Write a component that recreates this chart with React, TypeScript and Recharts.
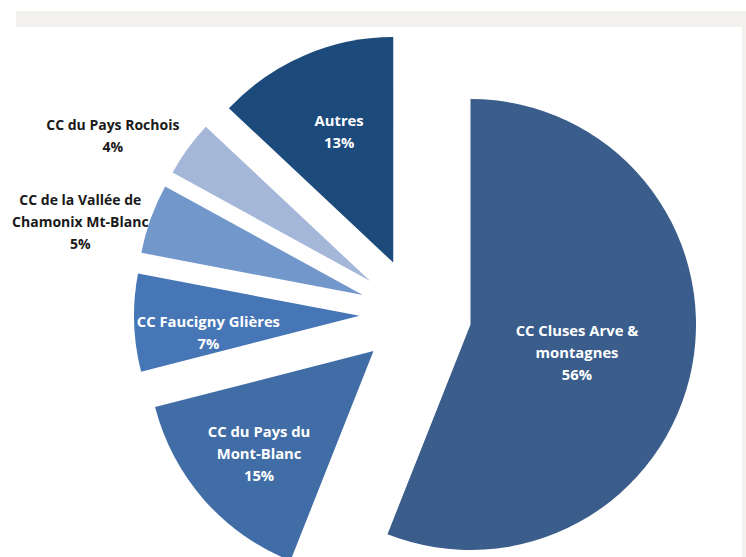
import { PieChart, Pie, Cell } from 'recharts';

const categories = [
  'CC Cluses Arve &\nmontagnes',
  'CC du Pays du\nMont-Blanc',
  'CC Faucigny Glières',
  'CC de la Vallée de\nChamonix Mt-Blanc',
  'CC du Pays Rochois',
  'Autres',
];
const shares = [56, 15, 7, 5, 4, 13];
const colors = ['#3a5d8b', '#416da6', '#4676b6', '#7197cb', '#a5b7d9', '#1c4a7a'];

const data = categories.map((name, i) => ({ name, value: shares[i] }));
const total = shares.reduce((s, v) => s + v, 0);

// chart geometry
const W = 746;
const H = 557;
const CX = 415.5;
const CY = 314;
const R = 225.5;
const EXPLODE = 56;
const RAD = Math.PI / 180;

// label placement: radial distance from slice apex, angle tweak, outside or not
const labelPos = [
  { r: 110, da: -3.7, inside: true },
  { r: 153, da: 0.2, inside: true },
  { r: 152, da: 4.2, inside: true },
  { r: 292, da: 5.1, inside: false },
  { r: 296, da: 6.4, inside: false },
  { r: 142, da: -1, inside: true },
];

// mid angle of each slice, degrees clockwise from 12 o'clock
const midAngles = shares.map((v, i) => {
  const before = shares.slice(0, i).reduce((s, x) => s + x, 0);
  return ((before + v / 2) / total) * 360;
});

const makeLabel = (slice: number) => (props: any) => {
  const { cx, cy, midAngle, index } = props;
  if (index !== slice) return null;
  const p = labelPos[slice];
  const a = (midAngle + p.da) * RAD;
  const x = cx + p.r * Math.cos(a);
  const y = cy - p.r * Math.sin(a);
  const lines = [...categories[slice].split('\n'), `${shares[slice]}%`];
  const lh = 22;
  const y0 = y - ((lines.length - 1) * lh) / 2;
  return (
    <text
      x={x}
      y={y0}
      textAnchor="middle"
      dominantBaseline="central"
      fill={p.inside ? '#ffffff' : '#1a1a1a'}
      fontFamily="'Open Sans', Lato, sans-serif"
      fontWeight="bold"
      fontSize={p.inside ? 14.8 : 14}
    >
      {lines.map((t, k) => (
        <tspan key={k} x={x} y={y0 + k * lh}>{t}</tspan>
      ))}
    </text>
  );
};

export default function App() {
  return (
    <div style={{ position: 'absolute', left: 0, top: 0, width: W, height: H, background: '#fff', overflow: 'hidden' }}>
      <div style={{ position: 'absolute', left: 16, top: 11, width: W - 16, height: 16, background: '#f2f1ed' }} />
      <div style={{ position: 'absolute', left: 742, top: 27, width: 4, height: H - 27, background: '#f2f1ed' }} />
      <div style={{ position: 'absolute', left: 0, top: 0 }}>
        <PieChart width={W} height={H} margin={{ top: 0, right: 0, bottom: 0, left: 0 }}>
          {data.map((_, slice) => {
            const m = midAngles[slice] * RAD;
            return (
              <Pie
                key={slice}
                data={data}
                dataKey="value"
                nameKey="name"
                cx={CX + EXPLODE * Math.sin(m)}
                cy={CY - EXPLODE * Math.cos(m)}
                outerRadius={R}
                startAngle={90}
                endAngle={-270}
                stroke="none"
                labelLine={false}
                label={makeLabel(slice)}
                isAnimationActive={false}
              >
                {data.map((d, i) => (
                  <Cell key={d.name} fill={i === slice ? colors[i] : 'transparent'} />
                ))}
              </Pie>
            );
          })}
        </PieChart>
      </div>
    </div>
  );
}
